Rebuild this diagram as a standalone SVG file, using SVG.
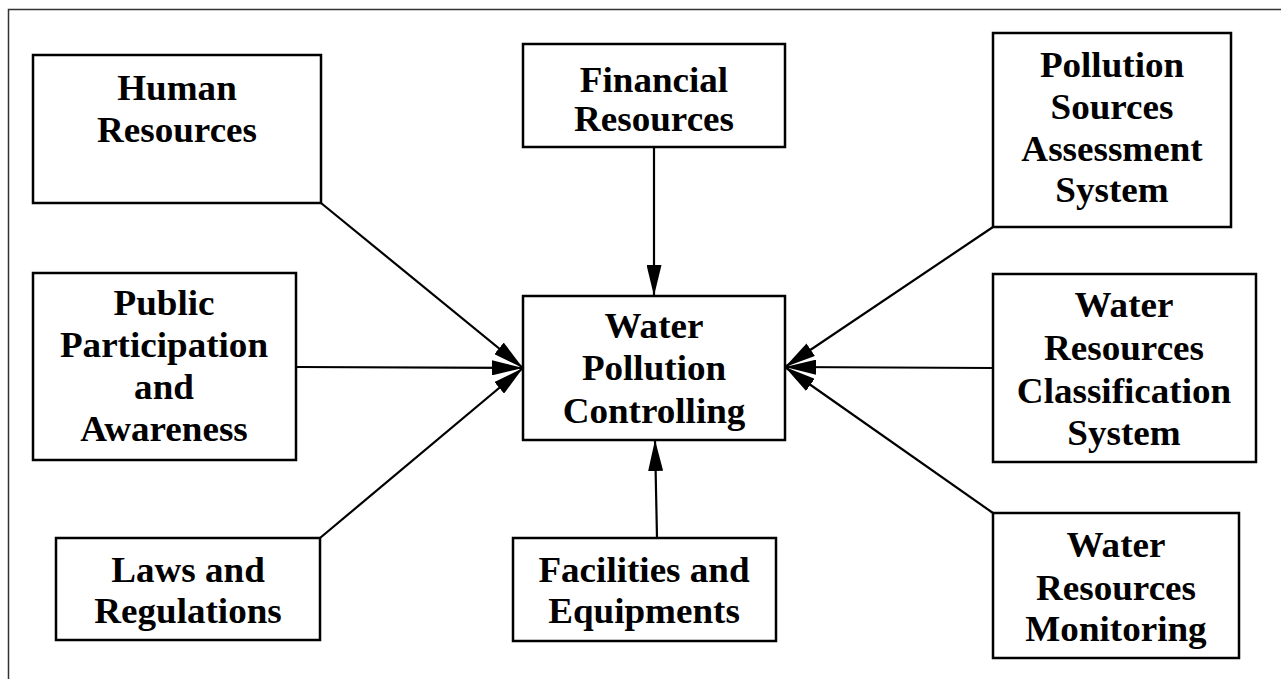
<svg xmlns="http://www.w3.org/2000/svg" width="1281" height="679" viewBox="0 0 1281 679">
<style>
.box{fill:#fff;stroke:#000;stroke-width:2.5}
.t{font-family:"Liberation Serif","Times New Roman",serif;font-weight:bold;font-size:35px;text-anchor:middle;fill:#000}
.c{stroke:#000;stroke-width:2.2;fill:none;marker-end:url(#ah)}
.frame{stroke:#333;stroke-width:1.5;fill:none}
</style>
<defs>
<marker id="ah" markerUnits="userSpaceOnUse" markerWidth="31" markerHeight="15" viewBox="0 0 31 15" refX="31" refY="7.5" orient="auto">
<path d="M0,0 L31,7.5 L0,15 z" fill="#000"/>
</marker>
</defs>
<rect width="1281" height="679" fill="#fff"/>
<path class="frame" d="M8.5,679 L8.5,9.5 L1281,9.5"/>
<g id="connectors">
<line class="c" x1="321" y1="203" x2="523" y2="368"/>
<line class="c" x1="296" y1="367" x2="523" y2="368"/>
<line class="c" x1="320" y1="538" x2="523" y2="368"/>
<line class="c" x1="654" y1="147" x2="654" y2="296"/>
<line class="c" x1="657" y1="538" x2="655" y2="440"/>
<line class="c" x1="993" y1="227" x2="785" y2="367"/>
<line class="c" x1="993" y1="368" x2="785" y2="367"/>
<line class="c" x1="993" y1="513" x2="785" y2="367"/>
</g>
<g id="human">
<rect class="box" x="33" y="55" width="288" height="148"/>
<text class="t" transform="matrix(1.06 0 0 1 177 0)"><tspan x="0" y="100">Human</tspan><tspan x="0" y="142">Resources</tspan></text>
</g>
<g id="financial">
<rect class="box" x="523" y="44" width="262" height="103"/>
<text class="t" transform="matrix(1.06 0 0 1 654 0)"><tspan x="0" y="92">Financial</tspan><tspan x="0" y="131">Resources</tspan></text>
</g>
<g id="pollution-sources">
<rect class="box" x="993" y="33" width="238" height="194"/>
<text class="t" transform="matrix(1.06 0 0 1 1112 0)"><tspan x="0" y="77">Pollution</tspan><tspan x="0" y="119">Sources</tspan><tspan x="0" y="161">Assessment</tspan><tspan x="0" y="202">System</tspan></text>
</g>
<g id="public">
<rect class="box" x="33" y="273" width="263" height="187"/>
<text class="t" transform="matrix(1.06 0 0 1 164 0)"><tspan x="0" y="315">Public</tspan><tspan x="0" y="357">Participation</tspan><tspan x="0" y="399">and</tspan><tspan x="0" y="441">Awareness</tspan></text>
</g>
<g id="center">
<rect class="box" x="523" y="296" width="262" height="144"/>
<text class="t" transform="matrix(1.06 0 0 1 654 0)"><tspan x="0" y="338">Water</tspan><tspan x="0" y="380">Pollution</tspan><tspan x="0" y="423">Controlling</tspan></text>
</g>
<g id="classification">
<rect class="box" x="993" y="274" width="263" height="188"/>
<text class="t" transform="matrix(1.06 0 0 1 1124 0)"><tspan x="0" y="317">Water</tspan><tspan x="0" y="360">Resources</tspan><tspan x="0" y="403">Classification</tspan><tspan x="0" y="445">System</tspan></text>
</g>
<g id="laws">
<rect class="box" x="56" y="538" width="264" height="102"/>
<text class="t" transform="matrix(1.06 0 0 1 188 0)"><tspan x="0" y="582">Laws and</tspan><tspan x="0" y="623">Regulations</tspan></text>
</g>
<g id="facilities">
<rect class="box" x="513" y="538" width="263" height="103"/>
<text class="t" transform="matrix(1.06 0 0 1 644 0)"><tspan x="0" y="582">Facilities and</tspan><tspan x="0" y="623">Equipments</tspan></text>
</g>
<g id="monitoring">
<rect class="box" x="993" y="513" width="246" height="145"/>
<text class="t" transform="matrix(1.06 0 0 1 1116 0)"><tspan x="0" y="557">Water</tspan><tspan x="0" y="600">Resources</tspan><tspan x="0" y="641">Monitoring</tspan></text>
</g>
</svg>
